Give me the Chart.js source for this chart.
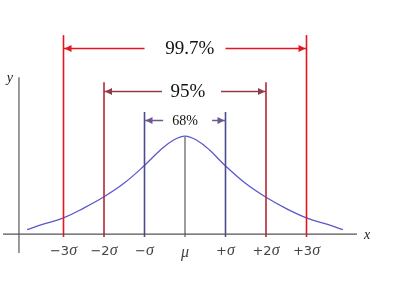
<!DOCTYPE html>
<html>
<head>
<meta charset="utf-8">
<script src="https://cdn.jsdelivr.net/npm/chart.js@4"></script>
<style>
  body { margin: 0; background: #fff; }
  canvas { display: block; }
</style>
</head>
<body>
<canvas id="chart" width="400" height="304"></canvas>
<script>
// curve (x in sigma units, y relative to the peak)
const curveX = [-3.9, -3.5, -3, -2.5, -2, -1.5, -1, -0.6, -0.3, 0, 0.3, 0.6, 1, 1.5, 2, 2.5, 3, 3.5, 3.9];
const curveY = [0.044, 0.10, 0.165, 0.265, 0.38, 0.52, 0.70, 0.86, 0.955, 1.0, 0.955, 0.86, 0.695, 0.515, 0.375, 0.26, 0.165, 0.10, 0.044];

// marker positions and their tick labels
const sigmaPos = [-3, -2, -1, 0, 1, 2, 3];
const tickLabels = ['−3σ', '−2σ', '−σ', 'μ', '+σ', '+2σ', '+3σ'];

// intervals around the mean
const bandWidth = [1, 2, 3];
const bandLabels = ['68%', '95%', '99.7%'];

// drawing styles
const bandStyle = [
  { color: '#4c4a8e', arrow: '#6a5a90', top: 1.245, arrowY: 1.163, gap: [-0.54, 0.67], font: '14px "Liberation Serif"', textX: 0 },
  { color: '#b02a38', arrow: '#8e3c48', top: 1.55, arrowY: 1.46, gap: [-0.57, 0.89], font: '19px "Liberation Serif"', textX: 0.07 },
  { color: '#e8141e', arrow: '#e8141e', top: 2.03, arrowY: 1.90, gap: [-1, 1], font: '19px "Liberation Serif"', textX: 0.12 }
];

function vline(x, top, color) {
  return {
    data: [{ x: x, y: -0.03 }, { x: x, y: top }],
    borderColor: color, borderWidth: 1.6, showLine: true, pointRadius: 0
  };
}

const datasets = [];
// axes
datasets.push({ data: [{ x: -4.494, y: 0 }, { x: 4.247, y: 0 }], borderColor: '#555', borderWidth: 1.3, showLine: true, pointRadius: 0 });
datasets.push({ data: [{ x: -4.1, y: -0.194 }, { x: -4.1, y: 1.6 }], borderColor: '#666', borderWidth: 1.3, showLine: true, pointRadius: 0 });
// interval lines
bandWidth.forEach((k, i) => {
  datasets.push(vline(-k, bandStyle[i].top, bandStyle[i].color));
  datasets.push(vline(k, bandStyle[i].top, bandStyle[i].color));
});
// mean
datasets.push(vline(0, 1.0, '#858585'));
// density curve
datasets.push({
  data: curveX.map((x, i) => ({ x: x, y: curveY[i] })),
  borderColor: '#5a58cc', borderWidth: 1.3, showLine: true, pointRadius: 0,
  tension: 0.4
});

function arrowHead(ctx, x, y, dir) {
  ctx.beginPath();
  ctx.moveTo(x, y);
  ctx.lineTo(x - dir * 7, y - 3.5);
  ctx.lineTo(x - dir * 7, y + 3.5);
  ctx.closePath();
  ctx.fill();
}

const annotations = {
  id: 'annotations',
  afterDatasetsDraw(chart) {
    const ctx = chart.ctx;
    const xs = chart.scales.x, ys = chart.scales.y;
    ctx.save();

    // interval arrows + labels
    bandWidth.forEach((k, i) => {
      const s = bandStyle[i];
      const y = Math.round(ys.getPixelForValue(s.arrowY)) + 0.5;
      const xl = xs.getPixelForValue(-k), xr = xs.getPixelForValue(k);
      ctx.strokeStyle = s.arrow;
      ctx.fillStyle = s.arrow;
      ctx.lineWidth = 1.5;
      ctx.beginPath();
      ctx.moveTo(xl, y); ctx.lineTo(xs.getPixelForValue(s.gap[0]), y);
      ctx.moveTo(xs.getPixelForValue(s.gap[1]), y); ctx.lineTo(xr, y);
      ctx.stroke();
      arrowHead(ctx, xl + 1, y, -1);
      arrowHead(ctx, xr - 1, y, 1);
      ctx.fillStyle = '#111';
      ctx.font = s.font;
      ctx.textAlign = 'center';
      ctx.textBaseline = 'middle';
      ctx.fillText(bandLabels[i], xs.getPixelForValue(s.textX), y + 1);
    });

    // tick labels: sign/digit in sans, sigma/mu in italic
    const baseY = ys.getPixelForValue(0) + 21;
    sigmaPos.forEach((v, i) => {
      const label = tickLabels[i];
      const head = label.slice(0, -1), sym = label.slice(-1);
      ctx.font = '13px "DejaVu Sans"';
      const w1 = ctx.measureText(head).width;
      ctx.font = 'italic 16px "Liberation Serif"';
      const w2 = ctx.measureText(sym).width;
      let x = xs.getPixelForValue(v) - (w1 + w2) / 2;
      ctx.fillStyle = '#444';
      ctx.textAlign = 'left';
      ctx.textBaseline = 'alphabetic';
      ctx.font = '13px "DejaVu Sans"';
      ctx.fillText(head, x, baseY);
      ctx.font = 'italic 16px "Liberation Serif"';
      ctx.fillText(sym, x + w1, sym === 'μ' ? baseY + 2 : baseY);
    });

    // axis names
    ctx.font = 'italic 14px "Liberation Serif"';
    ctx.fillStyle = '#222';
    ctx.textAlign = 'center';
    ctx.textBaseline = 'middle';
    ctx.fillText('x', xs.right + 10, ys.getPixelForValue(0) + 1);
    ctx.fillText('y', xs.getPixelForValue(-4.1) - 9, ys.getPixelForValue(1.6) + 1);

    ctx.restore();
  }
};

new Chart(document.getElementById('chart'), {
  type: 'scatter',
  data: { datasets: datasets },
  options: {
    responsive: false,
    animation: false,
    layout: { padding: { left: 3, right: 43, top: 30, bottom: 44 } },
    plugins: { legend: { display: false }, tooltip: { enabled: false } },
    scales: {
      x: { type: 'linear', min: -4.494, max: 4.247, display: false },
      y: { type: 'linear', min: -0.265, max: 2.082, display: false }
    }
  },
  plugins: [annotations]
});
</script>
</body>
</html>
